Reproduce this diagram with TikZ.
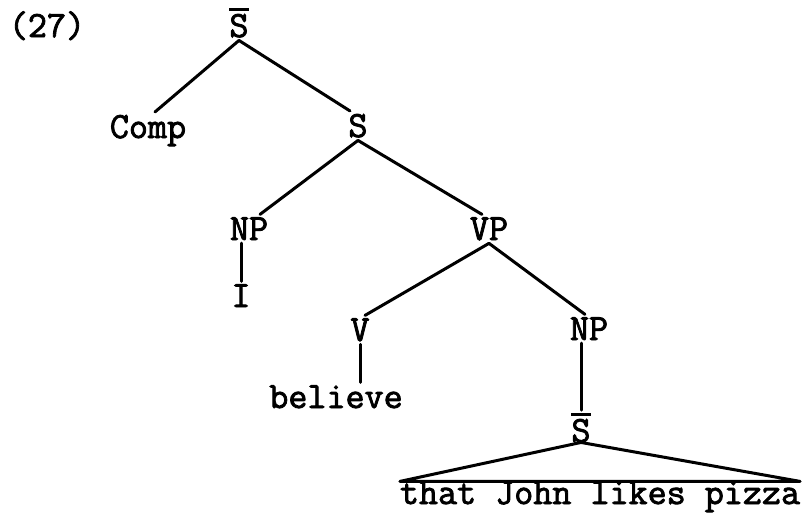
\documentclass[tikz,border=0pt]{standalone}
\usepackage{fontspec}
\newfontfamily\tw[FakeBold=2.2]{Latin Modern Mono}
\newcommand\barS{\leavevmode\vbox{\hrule height 2.8pt \kern 3pt \hbox{S}}}
\begin{document}
\begin{tikzpicture}[x=1pt,y=-1pt,
  every node/.style={font=\fontsize{37}{40}\selectfont\tw, inner sep=0pt, outer sep=3pt, anchor=base},
  branch/.style={line width=3pt, line cap=round}]
\useasboundingbox (0,0) rectangle (812,512);
\node (num) at (47,37) {(27)};
\node (top) at (239,37) {\barS};
\node (comp) at (148,138) {Comp};
\node (s) at (358,137) {S};
\node (npl) at (249,240) {NP};
\node (i) at (241,307) {I};
\node (vp) at (489,240) {VP};
\node (v) at (360,341) {V};
\node (npr) at (589,340) {NP};
\node (believe) at (336,408) {believe};
\node (sb) at (581,442) {\barS};
\node[outer sep=0pt] (txt) at (600,504) {that John likes pizza};
\draw[branch] (top.south) -- ([xshift=7pt]comp.north);
\draw[branch] (top.south) -- ([xshift=-8pt]s.north);
\draw[branch] (s.south) -- ([xshift=11pt]npl.north);
\draw[branch] (s.south) -- ([xshift=-7pt]vp.north);
\draw[branch] (i.north) -- (i.north |- npl.south);
\draw[branch] (vp.south) -- ([xshift=5pt]v.north);
\draw[branch] (vp.south) -- ([xshift=-4pt]npr.north);
\draw[branch] (v.south) -- (v.south |- believe.north);
\draw[branch] (sb.north) -- (sb.north |- npr.south);
\draw[branch, line join=round] ([yshift=3pt]sb.south) -- (txt.north west) -- (txt.north east) -- cycle;
\end{tikzpicture}
\end{document}
